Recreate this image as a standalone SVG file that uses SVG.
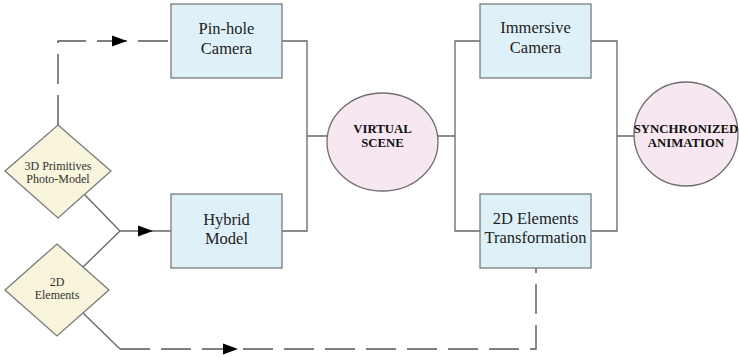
<svg xmlns="http://www.w3.org/2000/svg" width="739" height="357" viewBox="0 0 739 357">
<defs>
<style>
.box{fill:#dff1f8;stroke:#7a7a7a;stroke-width:1.3}
.dia{fill:#f8f5dc;stroke:#7a7a7a;stroke-width:1.3}
.cir{fill:#f6e7f0;stroke:#6e6e6e;stroke-width:1.3}
text{font-family:'Liberation Serif','Times New Roman','DejaVu Serif',serif}
.bt{font-size:16.5px;fill:#222;text-anchor:middle}
.dt{font-size:12px;fill:#333;text-anchor:middle}
.ct{font-size:12.8px;font-weight:bold;fill:#111;text-anchor:middle}
.ln{fill:none;stroke:#666;stroke-width:1.3}
.dash{fill:none;stroke:#555;stroke-width:1.4;stroke-dasharray:30 11}
.arr{fill:none;stroke:none}
</style>
<marker id="ah" markerWidth="16" markerHeight="12" refX="15" refY="6" orient="auto" markerUnits="userSpaceOnUse">
<path d="M0,0.5 L15,6 L0,11.5 Z" fill="#000"/>
</marker>
</defs>
<rect width="739" height="357" fill="#fff"/>
<g id="connectors">
<path class="dash" d="M58,125 V41 H171"/>
<path class="arr" d="M110,41 H127" marker-end="url(#ah)"/>
<path class="ln" d="M84,194 L120,231 L83,267 M120,231 H171"/>
<path class="arr" d="M138,231 H153" marker-end="url(#ah)"/>
<path class="ln" d="M83,313 L120,349"/>
<path class="dash" d="M120,349 H536 V268"/>
<path class="arr" d="M223,349 H238" marker-end="url(#ah)"/>
<path class="ln" d="M282,41 H307 V231 H282 M307,136 H327.5"/>
<path class="ln" d="M438,136 H455 M480,41 H455 V231 H480"/>
<path class="ln" d="M591,41 H617 V231 H591 M617,136 H634"/>
</g>
<g id="pinhole">
<rect class="box" x="171" y="4" width="111" height="74"/>
<text class="bt" x="226.5" y="34" font-family="Liberation Serif, serif">Pin-hole</text>
<text class="bt" x="226.5" y="54" font-family="Liberation Serif, serif">Camera</text>
</g>
<g id="hybrid">
<rect class="box" x="171" y="194" width="111" height="74"/>
<text class="bt" x="226.5" y="225" font-family="Liberation Serif, serif">Hybrid</text>
<text class="bt" x="226.5" y="244" font-family="Liberation Serif, serif">Model</text>
</g>
<g id="primitives">
<polygon class="dia" points="58,125 111,171 58,218 5,171"/>
<text class="dt" x="58" y="170" font-family="Liberation Serif, serif">3D Primitives</text>
<text class="dt" x="58" y="183" font-family="Liberation Serif, serif">Photo-Model</text>
</g>
<g id="elements2d">
<polygon class="dia" points="57,244 109,290 57,336 5,290"/>
<text class="dt" x="57" y="286" font-family="Liberation Serif, serif">2D</text>
<text class="dt" x="57" y="299" font-family="Liberation Serif, serif">Elements</text>
</g>
<g id="virtual">
<ellipse class="cir" cx="382.5" cy="142" rx="55.5" ry="49"/>
<text class="ct" x="382.5" y="133" font-family="Liberation Serif, serif">VIRTUAL</text>
<text class="ct" x="382.5" y="147" font-family="Liberation Serif, serif">SCENE</text>
</g>
<g id="immersive">
<rect class="box" x="480" y="4" width="111" height="74"/>
<text class="bt" x="535.5" y="33" font-family="Liberation Serif, serif">Immersive</text>
<text class="bt" x="535.5" y="53" font-family="Liberation Serif, serif">Camera</text>
</g>
<g id="transformation">
<rect class="box" x="480" y="194" width="111" height="74"/>
<text class="bt" x="535.5" y="224" font-family="Liberation Serif, serif">2D Elements</text>
<text class="bt" x="535.5" y="243" font-family="Liberation Serif, serif">Transformation</text>
</g>
<g id="synchronized">
<ellipse class="cir" cx="686" cy="134" rx="52" ry="52"/>
<text class="ct" x="686" y="133" font-family="Liberation Serif, serif">SYNCHRONIZED</text>
<text class="ct" x="686" y="147" font-family="Liberation Serif, serif">ANIMATION</text>
</g>
</svg>
